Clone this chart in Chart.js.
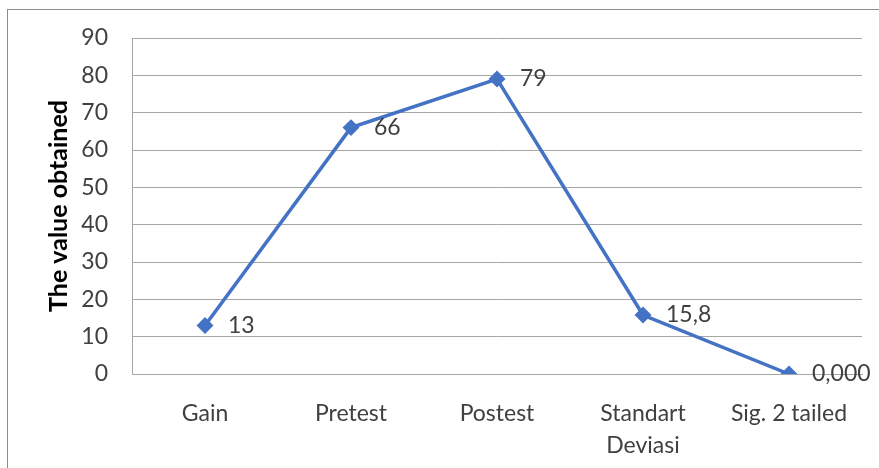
<!DOCTYPE html>
<html lang="en">
<head>
    <meta charset="UTF-8">
    <script src="https://cdn.jsdelivr.net/npm/chart.js"></script>
    <title>The value obtained</title>
    <style>
        body { margin: 0; background: #fff; }
        #wrap { position: relative; width: 879px; height: 468px; overflow: hidden; }
        #frame { position: absolute; left: 7px; top: 9px; width: 900px; height: 500px; border: 1px solid #8c8c8c; pointer-events: none; }
    </style>
</head>
<body>

<div id="wrap">
    <canvas id="lineChart" width="879" height="468"></canvas>
    <div id="frame"></div>
</div>

<script>
    // categories and values
    var categories = ['Gain', 'Pretest', 'Postest', ['Standart', 'Deviasi'], 'Sig. 2 tailed'];
    var values = [13, 66, 79, 15.8, 0];
    var valueLabels = ['13', '66', '79', '15,8', '0,000'];
    var yTicks = [0, 10, 20, 30, 40, 50, 60, 70, 80, 90];

    var textColor = '#404040';
    var gridColor = '#a6a6a6';

    // writes the value next to each point
    var pointLabels = {
        id: 'pointLabels',
        afterDatasetsDraw: function (chart) {
            var ctx = chart.ctx;
            var meta = chart.getDatasetMeta(0);
            ctx.save();
            ctx.font = '23px Lato';
            ctx.fillStyle = textColor;
            ctx.textAlign = 'left';
            ctx.textBaseline = 'middle';
            meta.data.forEach(function (pt, i) {
                ctx.fillText(valueLabels[i], pt.x + 23, pt.y);
            });
            ctx.restore();
        }
    };

    var ctx = document.getElementById('lineChart').getContext('2d');
    var myChart = new Chart(ctx, {
        type: 'line',
        data: {
            labels: categories,
            datasets: [{
                data: values,
                borderColor: '#4472c4',
                backgroundColor: '#4472c4',
                borderWidth: 3.5,
                pointStyle: 'rectRot',
                pointRadius: 6,
                pointHoverRadius: 6,
                tension: 0
            }]
        },
        options: {
            responsive: false,
            animation: false,
            layout: { padding: { left: 44, right: 17, top: 38, bottom: 0 } },
            plugins: {
                legend: { display: false },
                tooltip: { enabled: false }
            },
            scales: {
                x: {
                    offset: true,
                    grid: { display: false, drawTicks: false },
                    border: { display: true, color: gridColor, width: 1 },
                    ticks: {
                        color: textColor,
                        padding: 23,
                        maxRotation: 0,
                        autoSkip: false,
                        font: { family: 'Lato', size: 23, lineHeight: 1.4 }
                    },
                    afterFit: function (scale) { scale.height = 468 - 374; }
                },
                y: {
                    min: 0,
                    max: 90,
                    afterBuildTicks: function (scale) {
                        scale.ticks = yTicks.map(function (v) { return { value: v }; });
                    },
                    grid: { color: gridColor, lineWidth: 1, drawTicks: false },
                    border: { display: true, color: gridColor, width: 1 },
                    ticks: {
                        color: textColor,
                        padding: 24,
                        font: { family: 'Lato', size: 23 }
                    },
                    title: {
                        display: true,
                        text: 'The value obtained',
                        color: '#000',
                        font: { family: 'Lato', size: 25, weight: 'bold' },
                        padding: { top: 0, bottom: 0 }
                    },
                    afterFit: function (scale) { scale.width = 132 - 44; }
                }
            }
        },
        plugins: [pointLabels]
    });
</script>

</body>
</html>
